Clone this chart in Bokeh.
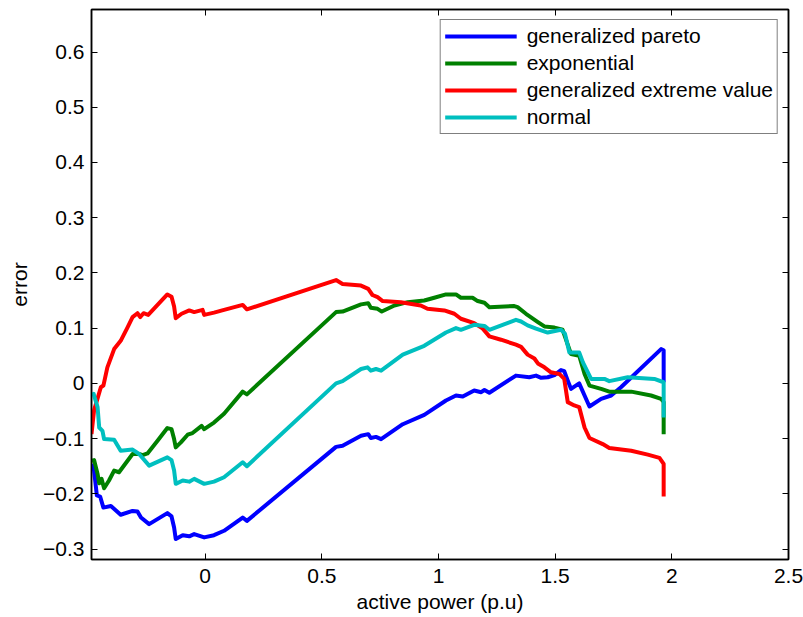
from bokeh.plotting import figure
from bokeh.models import Range1d, LinearAxis, FixedTicker, CustomJSTickFormatter, Legend, LegendItem
from bokeh.embed import file_html
from bokeh.resources import INLINE

x_ticks = [0, 0.5, 1, 1.5, 2, 2.5]
y_ticks = [-0.3, -0.2, -0.1, 0, 0.1, 0.2, 0.3, 0.4, 0.5, 0.6]

gp_x = [-0.487, -0.476, -0.464, -0.450, -0.436, -0.404, -0.362, -0.311, -0.290, -0.275, -0.240,
        -0.162, -0.144, -0.133, -0.126, -0.096, -0.068, -0.047, -0.004, 0.038, 0.081, 0.161, 0.179,
        0.561, 0.589, 0.668, 0.699, 0.710, 0.732, 0.754, 0.847, 0.939, 1.032, 1.075, 1.104, 1.153,
        1.183, 1.197, 1.218, 1.332, 1.389, 1.418, 1.440, 1.468, 1.497, 1.525, 1.539, 1.554, 1.568,
        1.603, 1.626, 1.647, 1.697, 1.740, 1.782, 1.954, 1.965, 1.965]
gp_y = [-0.146, -0.158, -0.203, -0.205, -0.225, -0.222, -0.238, -0.231, -0.232, -0.243, -0.255,
        -0.235, -0.241, -0.261, -0.282, -0.275, -0.277, -0.273, -0.279, -0.275, -0.267, -0.243, -0.249,
        -0.115, -0.113, -0.095, -0.092, -0.099, -0.097, -0.101, -0.074, -0.057, -0.031, -0.022, -0.024, -0.013,
        -0.016, -0.012, -0.017, 0.014, 0.011, 0.014, 0.010, 0.011, 0.015, 0.024, 0.022, 0.005, -0.010,
        0.000, -0.022, -0.042, -0.028, -0.022, -0.007, 0.062, 0.060, 0.002]

exp_x = [-0.487, -0.476, -0.461, -0.454, -0.444, -0.433, -0.412, -0.390, -0.369, -0.311, -0.283,
         -0.268, -0.247, -0.204, -0.162, -0.144, -0.133, -0.126, -0.104, -0.075, -0.054, -0.015, -0.004,
         0.038, 0.081, 0.161, 0.179, 0.561, 0.589, 0.668, 0.699, 0.710, 0.739, 0.757, 0.811, 0.868,
         0.939, 0.982, 1.032, 1.075, 1.096, 1.146, 1.168, 1.197, 1.218, 1.325, 1.339, 1.375, 1.426,
         1.454, 1.497, 1.532, 1.568, 1.603, 1.626, 1.647, 1.697, 1.732, 1.826, 1.911, 1.954, 1.965, 1.965]
exp_y = [-0.140, -0.139, -0.164, -0.181, -0.173, -0.190, -0.176, -0.158, -0.161, -0.128, -0.128,
         -0.130, -0.127, -0.104, -0.081, -0.083, -0.101, -0.116, -0.107, -0.093, -0.090, -0.077, -0.083,
         -0.071, -0.055, -0.015, -0.020, 0.129, 0.130, 0.143, 0.145, 0.137, 0.135, 0.130, 0.141, 0.147,
         0.150, 0.155, 0.161, 0.161, 0.155, 0.155, 0.149, 0.146, 0.138, 0.140, 0.138, 0.126, 0.111,
         0.103, 0.101, 0.097, 0.053, 0.050, 0.017, -0.004, -0.010, -0.015, -0.015, -0.022, -0.028, -0.034, -0.092]

gev_x = [-0.487, -0.476, -0.447, -0.436, -0.419, -0.390, -0.362, -0.333, -0.311, -0.290, -0.278,
         -0.264, -0.244, -0.162, -0.144, -0.133, -0.126, -0.101, -0.068, -0.047, -0.011, -0.004, 0.038,
         0.081, 0.161, 0.179, 0.561, 0.589, 0.668, 0.699, 0.717, 0.739, 0.761, 0.839, 0.924, 0.953,
         1.025, 1.068, 1.096, 1.153, 1.190, 1.218, 1.268, 1.332, 1.354, 1.382, 1.411, 1.426, 1.454,
         1.482, 1.518, 1.539, 1.554, 1.582, 1.603, 1.626, 1.647, 1.704, 1.732, 1.826, 1.897, 1.947,
         1.965, 1.965]
gev_y = [-0.092, -0.049, -0.007, -0.004, 0.029, 0.062, 0.077, 0.101, 0.120, 0.127, 0.120,
         0.127, 0.124, 0.161, 0.157, 0.139, 0.118, 0.126, 0.132, 0.129, 0.133, 0.124, 0.128,
         0.133, 0.142, 0.134, 0.187, 0.180, 0.177, 0.171, 0.160, 0.156, 0.149, 0.147, 0.141, 0.135,
         0.132, 0.126, 0.117, 0.109, 0.099, 0.085, 0.079, 0.070, 0.066, 0.052, 0.045, 0.036, 0.029,
         0.020, 0.017, 0.008, -0.034, -0.040, -0.043, -0.080, -0.099, -0.110, -0.117, -0.122, -0.129, -0.135,
         -0.146, -0.205]

norm_x = [-0.487, -0.478, -0.461, -0.454, -0.440, -0.433, -0.390, -0.362, -0.311, -0.283, -0.240,
          -0.162, -0.144, -0.133, -0.126, -0.096, -0.068, -0.047, -0.004, 0.038, 0.081, 0.161, 0.179,
          0.561, 0.589, 0.668, 0.696, 0.710, 0.732, 0.754, 0.847, 0.939, 1.032, 1.075, 1.096, 1.153,
          1.197, 1.218, 1.332, 1.354, 1.382, 1.418, 1.468, 1.525, 1.542, 1.561, 1.603, 1.619, 1.654,
          1.711, 1.732, 1.811, 1.925, 1.965, 1.965]
norm_y = [-0.022, -0.019, -0.043, -0.080, -0.086, -0.101, -0.102, -0.122, -0.120, -0.128, -0.149,
          -0.134, -0.139, -0.158, -0.182, -0.176, -0.178, -0.173, -0.182, -0.178, -0.170, -0.143, -0.150,
          0.000, 0.004, 0.026, 0.029, 0.023, 0.026, 0.023, 0.052, 0.068, 0.092, 0.100, 0.097, 0.106,
          0.104, 0.097, 0.115, 0.112, 0.105, 0.099, 0.092, 0.097, 0.090, 0.056, 0.056, 0.038, 0.008,
          0.008, 0.004, 0.011, 0.008, 0.002, -0.062]

series = [
    ("generalized pareto", gp_x, gp_y, "#0000FF"),
    ("exponential", exp_x, exp_y, "#008000"),
    ("generalized extreme value", gev_x, gev_y, "#FF0000"),
    ("normal", norm_x, norm_y, "#00BFBF"),
]

FONT = "Liberation Sans"
FS = "21px"

p = figure(frame_width=697, frame_height=550, output_backend="svg", toolbar_location=None,
           x_range=Range1d(-0.487, 2.5), y_range=Range1d(-0.319, 0.677),
           min_border_left=91, min_border_right=16, min_border_top=9, min_border_bottom=58,
           background_fill_color="white", border_fill_color="white")
p.xgrid.visible = False
p.ygrid.visible = False
p.outline_line_color = "black"
p.outline_line_width = 1.5

fmt = CustomJSTickFormatter(code="""
const v = Math.round(tick*10)/10;
if (v === 0) return '0';
return (v < 0 ? '\\u2212' : '') + Math.abs(v).toString();
""")

for ax in p.xaxis:
    ax.ticker = FixedTicker(ticks=x_ticks)
for ax in p.yaxis:
    ax.ticker = FixedTicker(ticks=y_ticks)

for ax in list(p.xaxis) + list(p.yaxis):
    ax.formatter = fmt
    ax.major_tick_in = 6
    ax.major_tick_out = 0
    ax.minor_tick_in = 0
    ax.minor_tick_out = 0
    ax.axis_line_color = "black"
    ax.axis_line_width = 1.5
    ax.major_tick_line_color = "black"
    ax.major_label_text_font = FONT
    ax.major_label_text_font_size = FS
    ax.major_label_text_color = "black"
    ax.axis_label_text_font = FONT
    ax.axis_label_text_font_size = FS
    ax.axis_label_text_font_style = "normal"
    ax.axis_label_text_color = "black"

p.xaxis.axis_label = "active power (p.u)"
p.yaxis.axis_label = "error"
p.xaxis.major_label_standoff = 9
p.xaxis.axis_label_standoff = 4
p.yaxis.major_label_standoff = 7
p.yaxis.axis_label_standoff = 9

blank = CustomJSTickFormatter(code="return '';")
top_ax = LinearAxis(ticker=FixedTicker(ticks=x_ticks), formatter=blank,
                    major_label_standoff=0, major_tick_in=6, major_tick_out=0,
                    minor_tick_in=0, minor_tick_out=0, axis_line_color="black", axis_line_width=1.5)
right_ax = LinearAxis(ticker=FixedTicker(ticks=y_ticks), formatter=blank,
                      major_label_standoff=0, major_tick_in=6, major_tick_out=0,
                      minor_tick_in=0, minor_tick_out=0, axis_line_color="black", axis_line_width=1.5)
p.add_layout(top_ax, "above")
p.add_layout(right_ax, "right")

items = []
for name, xs, ys, col in series:
    r = p.line(xs, ys, line_color=col, line_width=4, line_join="round")
    items.append(LegendItem(label=name, renderers=[r]))

legend = Legend(items=items, location="top_right", margin=10, padding=4,
                glyph_width=72, glyph_height=24, label_height=24, spacing=3, label_standoff=10,
                label_text_font=FONT, label_text_font_size=FS, label_text_color="black",
                border_line_color="black", border_line_width=1.2, background_fill_color="white",
                background_fill_alpha=1.0)
p.add_layout(legend, "center")

open("out.html", "w").write(file_html(p, INLINE))
